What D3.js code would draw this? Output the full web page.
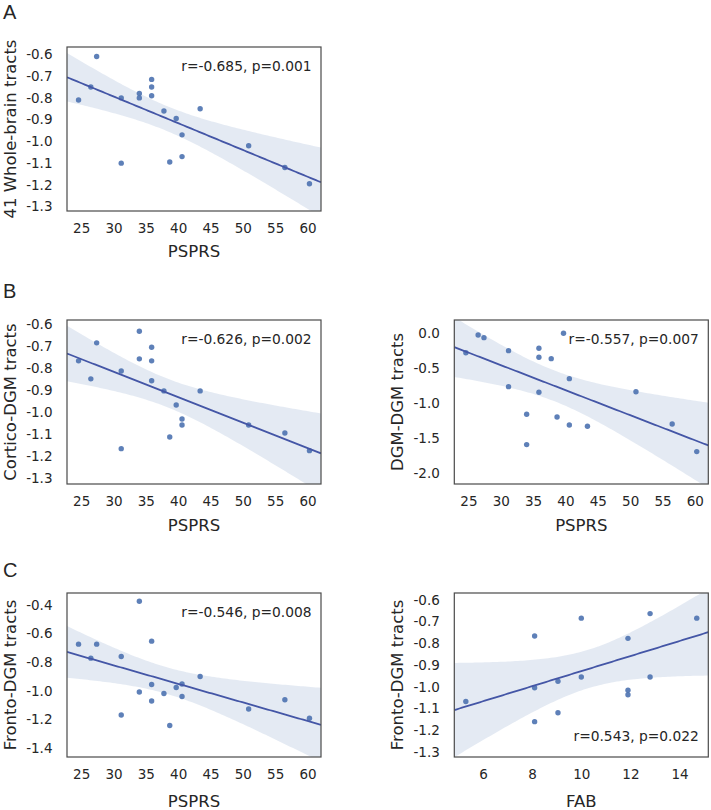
<!DOCTYPE html>
<html>
<head>
<meta charset="utf-8">
<script src="https://cdn.jsdelivr.net/npm/d3@7"></script>
<style>
  body { margin: 0; background: #fff; }
  svg text { font-family: "DejaVu Sans", Verdana, sans-serif; fill: #262626; }
  .letter { font-family: "Liberation Sans", Arial, sans-serif; font-size: 20px; }
</style>
</head>
<body>
<svg width="711" height="810"></svg>
<script>
// values
const psprs = [24.6, 26.5, 27.4, 31.2, 31.2, 34.0, 34.0, 35.9, 35.9, 35.9, 37.8, 38.7, 39.7, 40.6, 40.6, 43.4, 50.9, 56.5, 60.3];
const wholeBrain = [-0.81, -0.75, -0.61, -0.80, -1.10, -0.78, -0.80, -0.715, -0.75, -0.79, -0.86, -1.095, -0.895, -0.97, -1.07, -0.85, -1.02, -1.12, -1.195];
const corticoDgm = [-0.766, -0.848, -0.684, -0.812, -1.166, -0.631, -0.757, -0.704, -0.766, -0.857, -0.903, -1.113, -0.967, -1.031, -1.058, -0.903, -1.058, -1.095, -1.175];
const dgmDgm = [-0.277, -0.024, -0.062, -0.248, -0.762, -1.157, -1.59, -0.214, -0.343, -0.843, -0.362, -1.195, 0.0, -0.648, -1.31, -1.329, -0.834, -1.296, -1.69];
const frontoDgm = [-0.674, -0.772, -0.674, -0.761, -1.17, -0.374, -1.009, -0.653, -0.956, -1.072, -1.019, -1.244, -0.977, -0.953, -1.04, -0.90, -1.128, -1.063, -1.193];
const fab = [5.3, 8.1, 8.1, 8.1, 9.05, 9.05, 10.0, 10.0, 11.9, 11.9, 11.9, 12.8, 12.8, 14.7];
const frontoDgmFab = [-1.068, -0.766, -1.005, -1.161, -0.975, -1.12, -0.684, -0.955, -0.777, -1.016, -1.037, -0.663, -0.955, -0.684];

const psprsTicks = [25, 30, 35, 40, 45, 50, 55, 60];
const fabTicks = [6, 8, 10, 12, 14];
const ticksA = [-0.6, -0.7, -0.8, -0.9, -1.0, -1.1, -1.2, -1.3];
const ticksDgm = [0.0, -0.5, -1.0, -1.5, -2.0];
const ticksFronto = [-0.4, -0.6, -0.8, -1.0, -1.2, -1.4];

const yLabels = ['41 Whole-brain tracts', 'Cortico-DGM tracts', 'DGM-DGM tracts', 'Fronto-DGM tracts', 'Fronto-DGM tracts'];
const xLabels = ['PSPRS', 'PSPRS', 'PSPRS', 'PSPRS', 'FAB'];
const stats = ['r=-0.685, p=0.001', 'r=-0.626, p=0.002', 'r=-0.557, p=0.007', 'r=-0.546, p=0.008', 'r=0.543, p=0.022'];
const letters = ['A', 'B', 'C'];

const BLUE = '#4c72b0';
const W = 254, H = 164;
const svg = d3.select('svg');
const fmt = d3.formatLocale({ decimal: '.', thousands: ',', grouping: [3], currency: ['', ''], minus: '-' }).format('.1f');

const panels = [
  { x: psprs, y: wholeBrain, xt: psprsTicks, yt: ticksA, left: 67, top: 47, yd: [-1.32, -0.566], xlab: 45.7, statTop: true },
  { x: psprs, y: corticoDgm, xt: psprsTicks, yt: ticksA, left: 67, top: 320, yd: [-1.327, -0.58], xlab: 47, statTop: true },
  { x: psprs, y: dgmDgm, xt: psprsTicks, yt: ticksDgm, left: 454.3, top: 320, yd: [-2.153, 0.19], xlab: 47, statTop: true },
  { x: psprs, y: frontoDgm, xt: psprsTicks, yt: ticksFronto, left: 67, top: 593, yd: [-1.464, -0.316], xlab: 50, statTop: true },
  { x: fab, y: frontoDgmFab, xt: fabTicks, yt: ticksA, left: 454.3, top: 593, yd: [-1.324, -0.568], xlab: 50, statTop: false },
];

function fit(xs, ys) {
  const n = xs.length, mx = d3.mean(xs), my = d3.mean(ys);
  let sxx = 0, sxy = 0;
  xs.forEach((x, i) => { sxx += (x - mx) ** 2; sxy += (x - mx) * (ys[i] - my); });
  const b = sxy / sxx, a = my - b * mx;
  let sse = 0;
  xs.forEach((x, i) => { sse += (ys[i] - a - b * x) ** 2; });
  const s = Math.sqrt(sse / (n - 2));
  const df = n - 2, z = 1.959964;
  const t = z + (z ** 3 + z) / (4 * df) + (5 * z ** 5 + 16 * z ** 3 + 3 * z) / (96 * df * df);
  return { pred: x => a + b * x, half: x => t * s * Math.sqrt(1 / n + (x - mx) ** 2 / sxx) };
}

panels.forEach((p, k) => {
  const g = svg.append('g').attr('transform', `translate(${p.left},${p.top})`);
  const [x0, x1] = d3.extent(p.x);
  const pad = (x1 - x0) * 0.05;
  const xScale = d3.scaleLinear().domain([x0 - pad, x1 + pad]).range([0, W]);
  const yScale = d3.scaleLinear().domain(p.yd).range([H, 0]);

  g.append('clipPath').attr('id', 'clip' + k)
    .append('rect').attr('width', W).attr('height', H);

  const m = fit(p.x, p.y);
  const grid = d3.range(101).map(i => xScale.invert(i * W / 100));
  const plot = g.append('g').attr('clip-path', `url(#clip${k})`);

  plot.append('path')
    .datum(grid)
    .attr('fill', BLUE).attr('fill-opacity', 0.15)
    .attr('d', d3.area()
      .x(d => xScale(d))
      .y0(d => yScale(m.pred(d) - m.half(d)))
      .y1(d => yScale(m.pred(d) + m.half(d))));

  plot.selectAll('.dot')
    .data(p.x.map((v, i) => [v, p.y[i]]))
    .enter()
    .append('circle')
    .attr('cx', d => xScale(d[0]))
    .attr('cy', d => yScale(d[1]))
    .attr('r', 2.7)
    .attr('fill', BLUE)
    .attr('fill-opacity', 0.9);

  plot.append('path')
    .datum(grid)
    .attr('fill', 'none').attr('stroke', '#4456a6').attr('stroke-width', 1.8)
    .attr('d', d3.line().x(d => xScale(d)).y(d => yScale(m.pred(d))));

  g.append('rect').attr('width', W).attr('height', H)
    .attr('fill', 'none').attr('stroke', '#4a4a4a').attr('stroke-width', 1.2);

  const xAxis = g.append('g').attr('transform', `translate(0,${H})`)
    .call(d3.axisBottom(xScale).tickValues(p.xt).tickSize(0).tickFormat(d3.format('d')));
  xAxis.select('.domain').remove();
  xAxis.selectAll('text').attr('y', 21.5).attr('dy', null)
    .style('font-size', '13.5px').style('font-family', null).attr('fill', '#262626');

  const yAxis = g.append('g')
    .call(d3.axisLeft(yScale).tickValues(p.yt).tickSize(0).tickPadding(14.5).tickFormat(fmt));
  yAxis.select('.domain').remove();
  yAxis.selectAll('text').style('font-size', '13.5px').style('font-family', null).attr('fill', '#262626');

  g.append('text')
    .attr('transform', `translate(-51,${H / 2}) rotate(-90)`)
    .attr('text-anchor', 'middle')
    .style('font-size', '16.5px')
    .text(yLabels[k]);

  g.append('text')
    .attr('x', W / 2).attr('y', H + p.xlab)
    .attr('text-anchor', 'middle')
    .style('font-size', '16.5px')
    .text(xLabels[k]);

  g.append('text')
    .attr('x', W - 9.5).attr('y', p.statTop ? 24 : H - 16.5)
    .attr('text-anchor', 'end')
    .style('font-size', '13.8px')
    .text(stats[k]);
});

svg.selectAll('.letter')
  .data(letters)
  .enter()
  .append('text')
  .classed('letter', true)
  .attr('x', 3)
  .attr('y', (d, i) => [19.3, 298.3, 577][i])
  .text(d => d);
</script>
</body>
</html>
